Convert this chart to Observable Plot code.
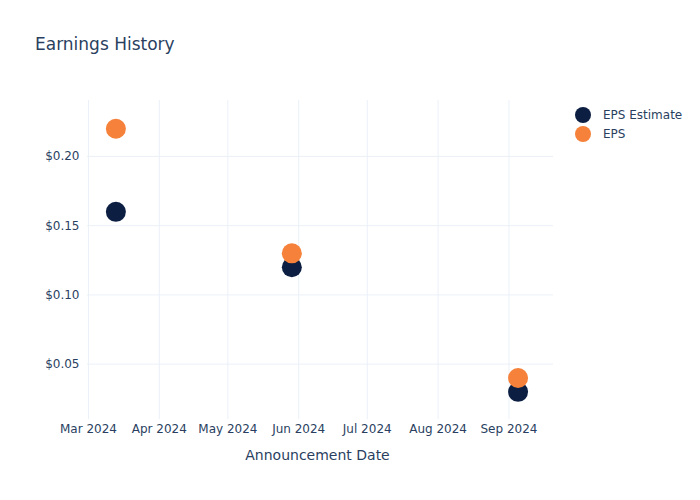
<!DOCTYPE html>
<html>
<head>
<meta charset="utf-8">
<script src="https://cdn.jsdelivr.net/npm/d3@7"></script>
<script src="https://cdn.jsdelivr.net/npm/@observablehq/plot@0.6"></script>
<style>
  html, body { margin: 0; padding: 0; background: #fff; }
  #wrap { position: relative; width: 700px; height: 500px; font-family: "DejaVu Sans", sans-serif; color: #2a3f5f; }
  #title { position: absolute; left: 35px; top: 34px; font-size: 17px; color: #2a3f5f; }
  #legend { position: absolute; left: 575px; top: 105px; font-size: 12px; color: #2a3f5f; }
  .li { display: flex; align-items: center; height: 19px; }
  .sw { width: 16px; height: 16px; border-radius: 50%; margin-right: 12px; }
</style>
</head>
<body>
<div id="wrap">
  <div id="chart"></div>
  <div id="title">Earnings History</div>
  <div id="legend"></div>
</div>
<script>
const dates = ["2024-03-13", "2024-05-29", "2024-09-05"];
const epsEstimate = [0.16, 0.12, 0.03];
const epsActual = [0.22, 0.13, 0.04];
const seriesNames = ["EPS Estimate", "EPS"];
const seriesColors = ["#0c1f42", "#f5813a"];

const data = [];
dates.forEach((d, i) => data.push({date: new Date(d), value: epsEstimate[i], series: seriesNames[0]}));
dates.forEach((d, i) => data.push({date: new Date(d), value: epsActual[i], series: seriesNames[1]}));

const monthTicks = d3.utcMonth.range(new Date("2024-03-01"), new Date("2024-09-15"));

const chart = Plot.plot({
  width: 700,
  height: 500,
  marginLeft: 87,
  marginRight: 147,
  marginTop: 100,
  marginBottom: 81,
  style: {fontFamily: "DejaVu Sans, sans-serif", fontSize: "12px", color: "#2a3f5f", background: "#fff"},
  x: {type: "utc", domain: [new Date("2024-02-29T14:00:00Z"), new Date("2024-09-20T12:00:00Z")]},
  y: {domain: [0.010, 0.2404]},
  color: {domain: seriesNames, range: seriesColors},
  marks: [
    Plot.gridX(monthTicks, {stroke: "#ebf0f8", strokeOpacity: 1, strokeWidth: 1}),
    Plot.gridY([0.05, 0.10, 0.15, 0.20], {stroke: "#ebf0f8", strokeOpacity: 1, strokeWidth: 1}),
    Plot.axisX(monthTicks, {
      tickSize: 0, tickPadding: 5, tickFormat: d3.utcFormat("%b %Y"), fill: "#2a3f5f",
      label: "Announcement Date", labelAnchor: "center", labelArrow: "none", labelOffset: 40
    }),
    Plot.axisY([0.05, 0.10, 0.15, 0.20], {
      tickSize: 0, tickPadding: 8, tickFormat: d => "$" + d.toFixed(2), fill: "#2a3f5f", label: null
    }),
    Plot.dot(data, {x: "date", y: "value", fill: "series", r: 10, stroke: null})
  ]
});
document.getElementById("chart").appendChild(chart);

chart.querySelectorAll("[aria-label='x-axis label'] text").forEach(t => {
  t.style.fontSize = "14px";
  t.setAttribute("dx", "-3");
});

const legend = document.getElementById("legend");
seriesNames.forEach((s, i) => {
  const row = document.createElement("div");
  row.className = "li";
  row.innerHTML = `<div class="sw" style="background:${seriesColors[i]}"></div><span>${s}</span>`;
  legend.appendChild(row);
});
</script>
</body>
</html>
